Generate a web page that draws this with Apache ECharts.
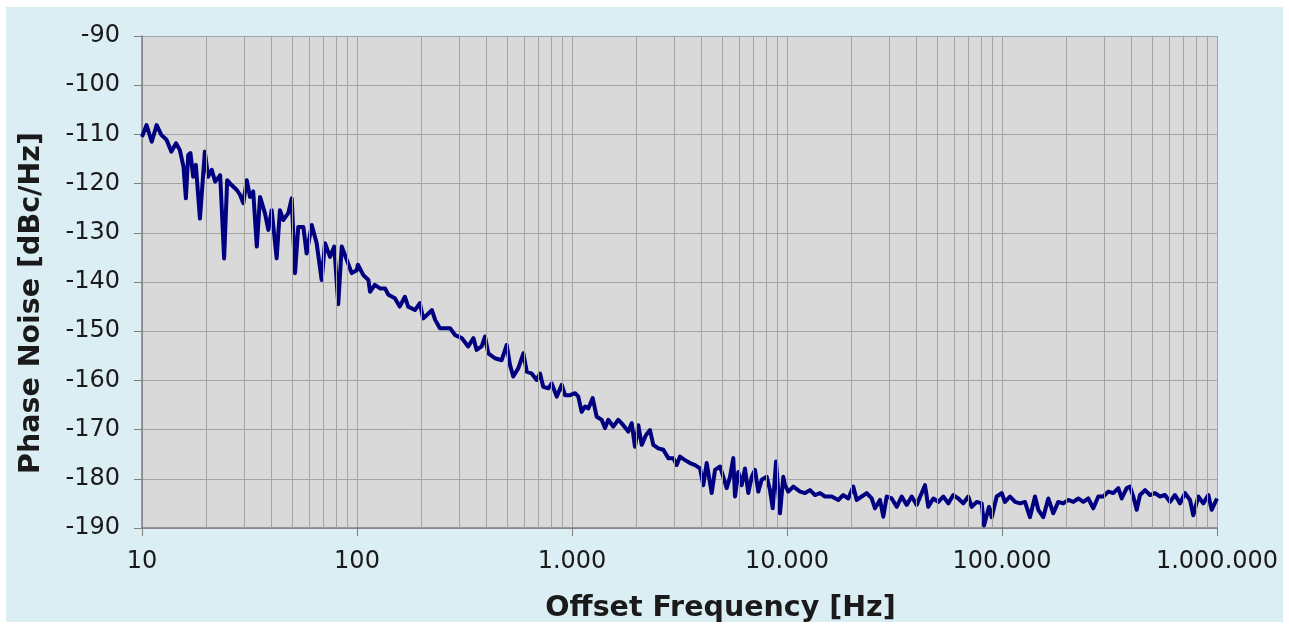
<!DOCTYPE html>
<html>
<head>
<meta charset="utf-8">
<script src="https://cdn.jsdelivr.net/npm/echarts@6/dist/echarts.min.js"></script>
<style>
  html, body { margin: 0; padding: 0; background: #ffffff; }
  #main { position: absolute; left: 6px; top: 7px; width: 1277px; height: 615px; background: #dbeef4; }
</style>
</head>
<body>
<div id="main"></div>
<script>
// offset frequency [Hz]
var freqs = [
  10, 10.5, 11.1, 11.7, 12.3, 13.0, 13.7, 14.4, 15.0, 15.6, 16.0, 16.4, 16.8, 17.3, 17.8, 18.6, 19.6,
  20.3, 21.1, 21.9, 23.1, 24.1, 24.9, 26.1, 27.6, 28.6, 29.6, 30.7, 31.8, 32.9, 34.2, 35.4, 37.3, 38.7,
  40.1, 42.3, 43.8, 45.4, 47.9, 49.7, 51.5, 53.3, 56.3, 58.3, 61.6, 64.9, 68.5, 71.0, 74.9, 78.4, 81.8,
  84.9, 89.6, 94.5, 99.7,
  101, 107, 113, 115, 121, 128, 135, 140, 150, 158, 167, 173, 186, 196, 203, 215, 223, 231, 243, 257,
  271, 286, 307, 329, 348, 360, 380, 394, 408, 438, 471, 497, 515, 533, 563, 594, 616, 649, 685, 710,
  735, 776, 805, 849, 896, 928, 979,
  1033, 1070, 1109, 1150, 1191, 1248, 1303, 1374, 1424, 1475, 1556, 1642, 1732, 1827, 1895, 1963, 2034,
  2110, 2209, 2306, 2388, 2520, 2659, 2805, 2959, 3069, 3179, 3355, 3539, 3734, 3939, 4080, 4232, 4465,
  4626, 4881, 5056, 5242, 5431, 5626, 5729, 5935, 6156, 6376, 6607, 6852, 7099, 7354, 7626, 8045, 8337,
  8582, 8889, 9278, 9612, 9788,
  10140, 10700, 11500, 12130, 12790, 13490, 14240, 15020, 16140, 17320, 18270, 19280, 20340, 21100,
  22260, 23480, 24770, 25660, 27070, 28050, 29090, 30690, 32370, 34150, 36040, 38020, 40110, 42320,
  43840, 45420, 47920, 50560, 53330, 56260, 59350, 62620, 66070, 69700, 72290, 76260, 80450, 82480,
  87000, 89560, 94470, 99680,
  103300, 108960, 115000, 121300, 127900, 134900, 142400, 147500, 155600, 164200, 173200, 182700,
  192800, 203400, 214600, 226400, 238800, 252000, 265900, 280500, 295900, 312200, 329300, 347500,
  360400, 380200, 393900, 408000, 423200, 438400, 462600, 488100, 514700, 543100, 572900, 604400,
  637600, 672800, 709900, 748900, 775900, 818500, 863600, 911100, 944700, 1000000
];
// phase noise [dBc/Hz]
var noise = [
  -110.5, -108.1, -111.5, -108.1, -110.1, -111.1, -113.5, -111.8, -113.2, -116.6, -123.0, -114.2, -113.8, -118.6, -116.2, -127.1, -113.5,
  -118.6, -117.2, -119.6, -118.3, -135.2, -119.3, -120.3, -121.3, -122.3, -124.0, -119.3, -122.7, -121.6, -132.8, -122.7, -126.0, -129.4,
  -125.4, -135.2, -125.4, -127.4, -126.0, -123.0, -138.2, -128.8, -128.8, -134.2, -128.4, -132.1, -139.6, -132.1, -134.9, -132.8, -144.5,
  -132.8, -135.5, -138.2, -137.6,
  -136.5, -138.6, -139.6, -142.0, -140.6, -141.3, -141.3, -142.6, -143.3, -145.0, -143.0, -145.0, -145.7, -144.3, -147.4, -146.4, -145.7, -147.7, -149.4, -149.4,
  -149.4, -150.8, -151.4, -153.1, -151.4, -153.8, -153.1, -151.1, -154.5, -155.5, -155.9, -152.8, -156.9, -159.2, -157.5, -154.5, -158.2, -158.6, -159.9, -158.6,
  -161.3, -161.6, -160.6, -163.3, -160.9, -163.0, -163.0,
  -162.6, -163.3, -166.4, -165.3, -165.7, -163.6, -167.4, -168.0, -169.7, -168.0, -169.4, -168.0, -169.1, -170.4, -168.7, -173.5, -169.1,
  -173.1, -171.1, -170.1, -173.1, -173.8, -174.1, -175.8, -175.8, -177.2, -175.5, -176.2, -176.8, -177.2, -177.9, -181.3, -176.8, -182.9,
  -178.2, -177.5, -179.6, -181.9, -179.6, -175.8, -183.6, -178.6, -181.3, -177.9, -182.9, -179.6, -178.2, -182.6, -180.2, -179.6, -182.3,
  -186.0, -176.5, -187.0, -179.6, -181.3,
  -182.6, -181.6, -182.6, -182.9, -182.3, -183.3, -182.9, -183.6, -183.6, -184.3, -183.3, -184.0, -181.6, -184.3,
  -183.6, -182.9, -184.0, -186.0, -184.3, -187.7, -183.6, -184.0, -185.7, -183.6, -185.3, -183.6, -185.3, -182.9,
  -181.3, -185.7, -184.0, -184.7, -183.6, -185.0, -183.3, -184.0, -185.0, -183.6, -185.7, -184.7, -185.0, -189.5,
  -185.7, -187.8, -183.6, -182.9,
  -184.7, -183.6, -184.7, -185.0, -184.7, -187.8, -183.6, -186.3, -187.8, -184.0, -187.0, -184.7,
  -185.0, -184.3, -184.7, -184.0, -184.7, -184.0, -186.0, -183.6, -183.6, -182.6, -182.9, -181.9,
  -184.0, -181.9, -181.6, -183.6, -186.3, -183.3, -182.3, -183.3, -182.9, -183.6, -183.3, -184.7,
  -183.3, -185.0, -182.9, -184.3, -187.4, -183.6, -185.0, -183.3, -186.3, -184.0
];
var decades = [10, 100, 1000, 10000, 100000];
var minorSteps = [2, 3, 4, 5, 6, 7, 8, 9];

var points = freqs.map(function (f, i) { return [f, noise[i]]; });
var minorLines = [];
decades.forEach(function (d) {
  minorSteps.forEach(function (k) { minorLines.push({ xAxis: d * k }); });
});

function dotted(v) {
  return String(Math.round(v)).replace(/\B(?=(\d{3})+(?!\d))/g, '.');
}

var chart = echarts.init(document.getElementById('main'));
var gridColor = '#a3a3a3';
var textFont = 'DejaVu Sans, Verdana, sans-serif';
var option = {
  animation: false,
  backgroundColor: 'transparent',
  grid: {
    left: 136, right: 66, top: 29, bottom: 94,
    outerBoundsMode: 'none',
    containLabel: false,
    show: true, backgroundColor: '#d9d9d9', borderWidth: 0
  },
  xAxis: {
    type: 'log',
    logBase: 10,
    min: 10,
    max: 1000000,
    name: 'Offset Frequency [Hz]',
    nameLocation: 'middle',
    nameGap: 66,
    nameTextStyle: {
      fontFamily: textFont,
      fontSize: 28.5, fontWeight: 'bold', color: '#1a1a1a',
      padding: [0, 0, 0, 82]
    },
    axisLine: { show: true, onZero: false, lineStyle: { color: '#808080', width: 1.5 } },
    axisTick: { show: true, inside: false, length: 8, lineStyle: { color: '#808080' } },
    axisLabel: {
      margin: 22,
      fontFamily: textFont,
      fontSize: 24, color: '#1a1a1a',
      formatter: dotted
    },
    splitLine: { show: true, lineStyle: { color: gridColor, width: 1 } },
    minorTick: { show: false },
    minorSplitLine: { show: false }
  },
  yAxis: {
    type: 'value',
    min: -190,
    max: -90,
    interval: 10,
    name: 'Phase Noise [dBc/Hz]',
    nameLocation: 'middle',
    nameGap: 96,
    nameTextStyle: {
      fontFamily: textFont,
      fontSize: 28.5, fontWeight: 'bold', color: '#1a1a1a',
      padding: [0, 42, 0, 0]
    },
    axisLine: { show: true, lineStyle: { color: '#808080', width: 1.5 } },
    axisTick: { show: true, inside: false, length: 8, lineStyle: { color: '#808080' } },
    axisLabel: {
      margin: 22,
      fontFamily: textFont,
      fontSize: 24, color: '#1a1a1a'
    },
    splitLine: { show: true, lineStyle: { color: gridColor, width: 1 } }
  },
  series: [
    {
      name: 'minor grid',
      type: 'line',
      data: [],
      silent: true,
      z: 1,
      markLine: {
        silent: true,
        symbol: ['none', 'none'],
        label: { show: false },
        lineStyle: { color: gridColor, width: 1, type: 'solid' },
        emphasis: { disabled: true },
        data: minorLines
      }
    },
    {
      name: 'Phase Noise',
      type: 'line',
      data: points,
      showSymbol: false,
      symbol: 'none',
      z: 3,
      lineStyle: { color: '#000080', width: 4, join: 'round' }
    }
  ]
};
chart.setOption(option);
</script>
</body>
</html>
